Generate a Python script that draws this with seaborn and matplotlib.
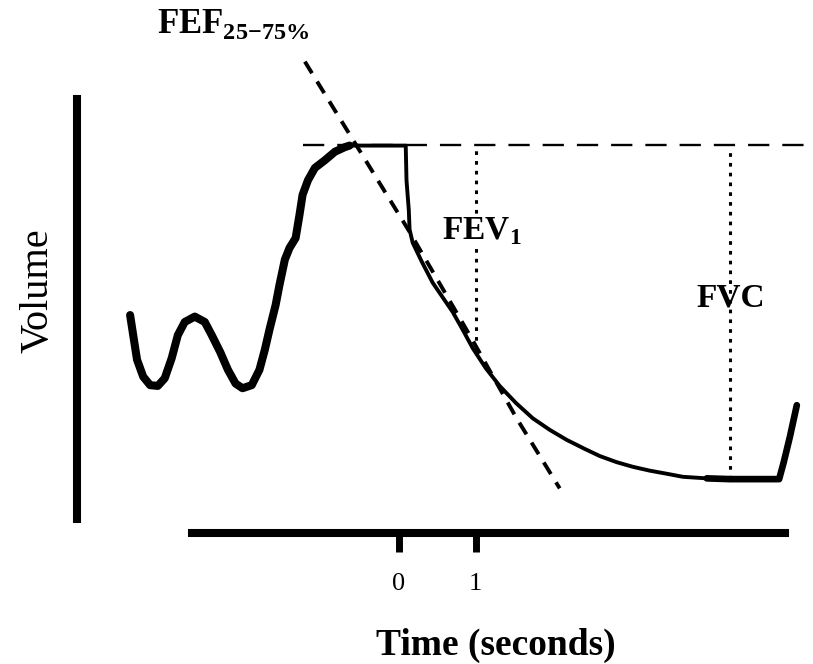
import matplotlib.pyplot as plt
import seaborn as sns

# spirogram trace: time in seconds, volume in arbitrary units
tidal_t = [-3.49, -3.45, -3.40, -3.32, -3.23, -3.13, -3.04, -2.95, -2.87, -2.78, -2.65,
           -2.52, -2.43, -2.32, -2.22, -2.12, -2.03, -1.91, -1.81, -1.74, -1.68, -1.60,
           -1.55, -1.48, -1.42, -1.34, -1.29, -1.25, -1.18, -1.09, -0.96, -0.83, -0.70,
           -0.64]
tidal_v = [2.83, 2.57, 2.25, 2.03, 1.92, 1.91, 2.01, 2.27, 2.57, 2.74, 2.81,
           2.74, 2.57, 2.35, 2.12, 1.94, 1.88, 1.92, 2.12, 2.38, 2.64, 2.96,
           3.22, 3.55, 3.70, 3.83, 4.13, 4.39, 4.58, 4.74, 4.84, 4.95, 5.01,
           5.03]
expire_t = [-0.64, 0.09, 0.10, 0.13, 0.14, 0.18, 0.30, 0.44, 0.57, 0.70, 0.83, 0.96,
            1.13, 1.31, 1.52, 1.74, 1.96, 2.18, 2.42, 2.61, 2.83, 3.04, 3.26, 3.48,
            3.69, 4.00]
expire_v = [5.03, 5.03, 4.58, 4.19, 3.94, 3.77, 3.52, 3.25, 3.06, 2.87, 2.64, 2.40,
            2.14, 1.91, 1.69, 1.49, 1.34, 1.21, 1.09, 1.00, 0.92, 0.86, 0.81, 0.77,
            0.73, 0.71]
end_t = [4.00, 4.30, 4.94, 5.00, 5.08, 5.17]
end_v = [0.71, 0.70, 0.70, 0.92, 1.25, 1.66]

# FEF 25-75% slope
fef_t = [-1.22, -0.66, 0.14, 0.92, 1.53, 2.09]
fef_v = [6.12, 5.21, 3.91, 2.57, 1.49, 0.58]

peak_v = 5.04
peak_span = [-1.25, 5.31]
fev1_t, fev1_v = 1.0, 2.38
fvc_t, fvc_v = 4.30, 0.70
marker_top = 4.97
tick_times = [0, 1]

sns.set_theme(style="white")
plt.rcParams["font.family"] = ["Liberation Serif", "DejaVu Serif"]
plt.rcParams["mathtext.fontset"] = "custom"
plt.rcParams["mathtext.rm"] = "Liberation Serif"
plt.rcParams["mathtext.bf"] = "Liberation Serif:bold"
plt.rcParams["text.color"] = "black"
plt.rcParams["xtick.color"] = "black"
plt.rcParams["xtick.labelcolor"] = "black"

fig = plt.figure(figsize=(8.13, 6.64), dpi=100)
ax = fig.add_axes([0, 0, 1, 1])

sns.lineplot(x=tidal_t, y=tidal_v, sort=False, estimator=None, color="black",
             lw=5.8, ax=ax)
sns.lineplot(x=expire_t, y=expire_v, sort=False, estimator=None, color="black",
             lw=2.8, ax=ax)
sns.lineplot(x=end_t, y=end_v, sort=False, estimator=None, color="black",
             lw=4.8, ax=ax)
ax.plot(fef_t, fef_v, color="black", lw=2.8, dashes=(3.5, 2.5))
ax.hlines(peak_v, *peak_span, color="black", lw=1.7, linestyles=(0, (9, 5.5)))
ax.vlines([fev1_t, fvc_t], [fev1_v, fvc_v], marker_top, color="black", lw=2.2,
          linestyles=(0, (1.2, 2.0)), zorder=3)

ax.text(-3.14, 6.49, r"FEF$_{\mathbf{25{-}75\%}}$", fontsize=25, fontweight="bold",
        ha="left", va="baseline")
ax.text(0.56, 3.81, r"FEV$_{\mathbf{1}}$", fontsize=24, fontweight="bold",
        ha="left", va="baseline", zorder=4,
        bbox=dict(facecolor="white", edgecolor="none", pad=1))
ax.text(3.87, 2.94, "FVC", fontsize=24, fontweight="bold", ha="left",
        va="baseline", zorder=2)
ax.text(-4.69, 3.14, "Volume", fontsize=29, rotation=90, ha="center", va="center")
ax.text(1.26, -1.58, "Time (seconds)", fontsize=27, fontweight="bold",
        ha="center", va="baseline")

ax.set_xlim(-5.18, 5.38)
ax.set_ylim(-1.70, 6.92)
for side in ["top", "right"]:
    ax.spines[side].set_visible(False)
ax.spines["left"].set_position(("data", -4.18))
ax.spines["left"].set_bounds(0.18, 5.63)
ax.spines["bottom"].set_position(("data", 0))
ax.spines["bottom"].set_bounds(-2.68, 5.01)
for side in ["left", "bottom"]:
    ax.spines[side].set_linewidth(5.8)
    ax.spines[side].set_color("black")

ax.set_xticks(tick_times)
ax.set_yticks([])
ax.tick_params(axis="x", bottom=True, direction="out", length=14, width=5,
               color="black", labelcolor="black", pad=15, labelsize=19)
ax.set_xlabel("")
ax.set_ylabel("")

fig.savefig("out.png", dpi=100)
